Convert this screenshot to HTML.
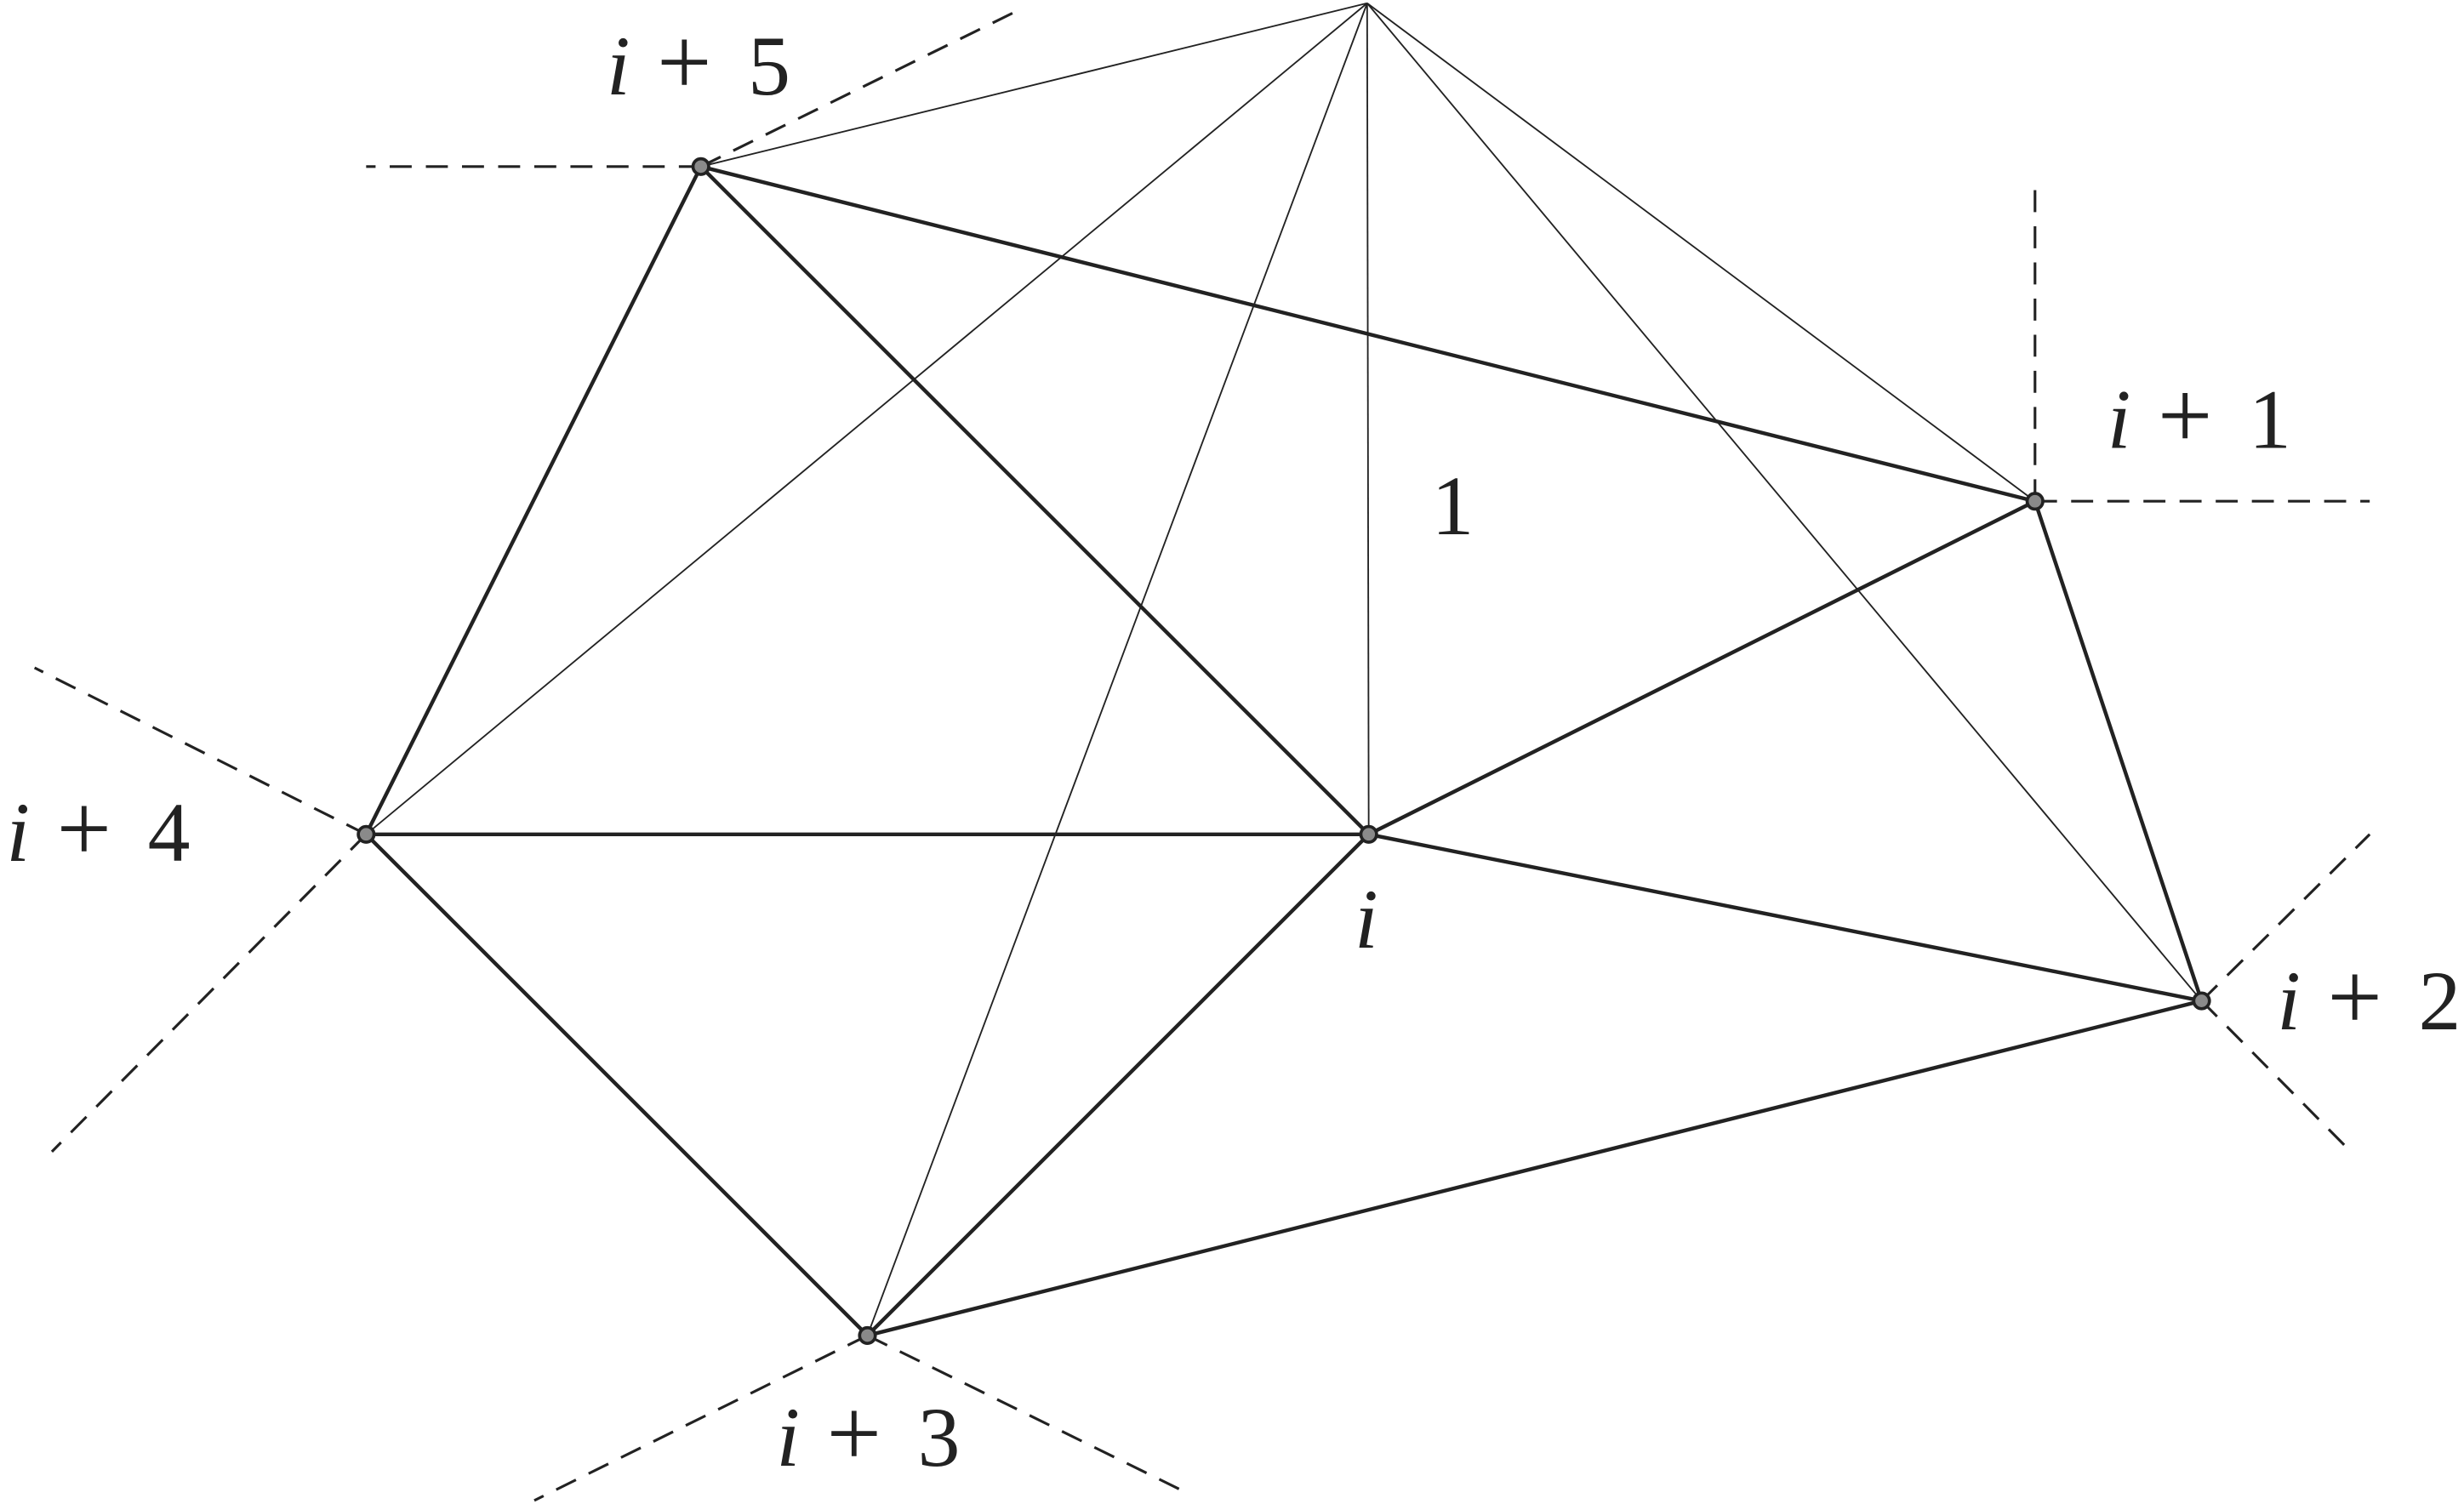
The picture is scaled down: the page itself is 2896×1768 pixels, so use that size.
<!DOCTYPE html>
<html><head><meta charset="utf-8"><style>
html,body{margin:0;padding:0;background:#fff;}
svg{display:block;}
text{font-family:"Liberation Serif",serif;fill:#222;font-size:54px;}
.i{font-style:italic;}
.p{font-size:62px;}
</style></head><body>
<svg width="2896" height="1768" viewBox="0 0 1568 957.2" xmlns="http://www.w3.org/2000/svg">
<g stroke="#222" stroke-width="1" fill="none">
<line x1="870" y1="2" x2="446" y2="106"/>
<line x1="870" y1="2" x2="233" y2="531"/>
<line x1="870" y1="2" x2="552" y2="850"/>
<line x1="870" y1="2" x2="871" y2="531"/>
<line x1="870" y1="2" x2="1295" y2="319"/>
<line x1="870" y1="2" x2="1401" y2="637"/>
</g>
<g stroke="#222" stroke-width="1.7" stroke-dasharray="14 9" fill="none">
<line x1="446" y1="106" x2="233" y2="106"/>
<line x1="446" y1="106" x2="645" y2="8"/>
<line x1="1295" y1="319" x2="1295" y2="112"/>
<line x1="1295" y1="319" x2="1508" y2="319"/>
<line x1="233" y1="531" x2="22" y2="425"/>
<line x1="233" y1="531" x2="33" y2="733"/>
<line x1="1401" y1="637" x2="1508" y2="531"/>
<line x1="1401" y1="637" x2="1496" y2="733"/>
<line x1="552" y1="850" x2="340" y2="955"/>
<line x1="552" y1="850" x2="755" y2="950"/>
</g>
<g stroke="#222" stroke-width="2.4" fill="none">
<line x1="446" y1="106" x2="233" y2="531"/>
<line x1="446" y1="106" x2="871" y2="531"/>
<line x1="446" y1="106" x2="1295" y2="319"/>
<line x1="233" y1="531" x2="871" y2="531"/>
<line x1="233" y1="531" x2="552" y2="850"/>
<line x1="552" y1="850" x2="871" y2="531"/>
<line x1="552" y1="850" x2="1401" y2="637"/>
<line x1="871" y1="531" x2="1295" y2="319"/>
<line x1="871" y1="531" x2="1401" y2="637"/>
<line x1="1295" y1="319" x2="1401" y2="637"/>
</g>
<g fill="#8a8a8a" stroke="#222" stroke-width="2">
<circle cx="446" cy="106" r="5"/>
<circle cx="1295" cy="319" r="5"/>
<circle cx="871" cy="531" r="5"/>
<circle cx="233" cy="531" r="5"/>
<circle cx="1401" cy="637" r="5"/>
<circle cx="552" cy="850" r="5"/>
</g>
<g>
<text class="i" x="386" y="60">i</text><text class="p" x="418" y="60">+</text><text x="476" y="60">5</text>
<text class="i" x="1341" y="285">i</text><text class="p" x="1373" y="285">+</text><text x="1431" y="285">1</text>
<text x="911" y="340">1</text>
<text class="i" x="4" y="548">i</text><text class="p" x="36" y="548">+</text><text x="94" y="548">4</text>
<text class="i" x="862" y="603">i</text>
<text class="i" x="1449" y="655">i</text><text class="p" x="1481" y="655">+</text><text x="1539" y="655">2</text>
<text class="i" x="494" y="933">i</text><text class="p" x="526" y="933">+</text><text x="584" y="933">3</text>
</g>
</svg>
</body></html>
